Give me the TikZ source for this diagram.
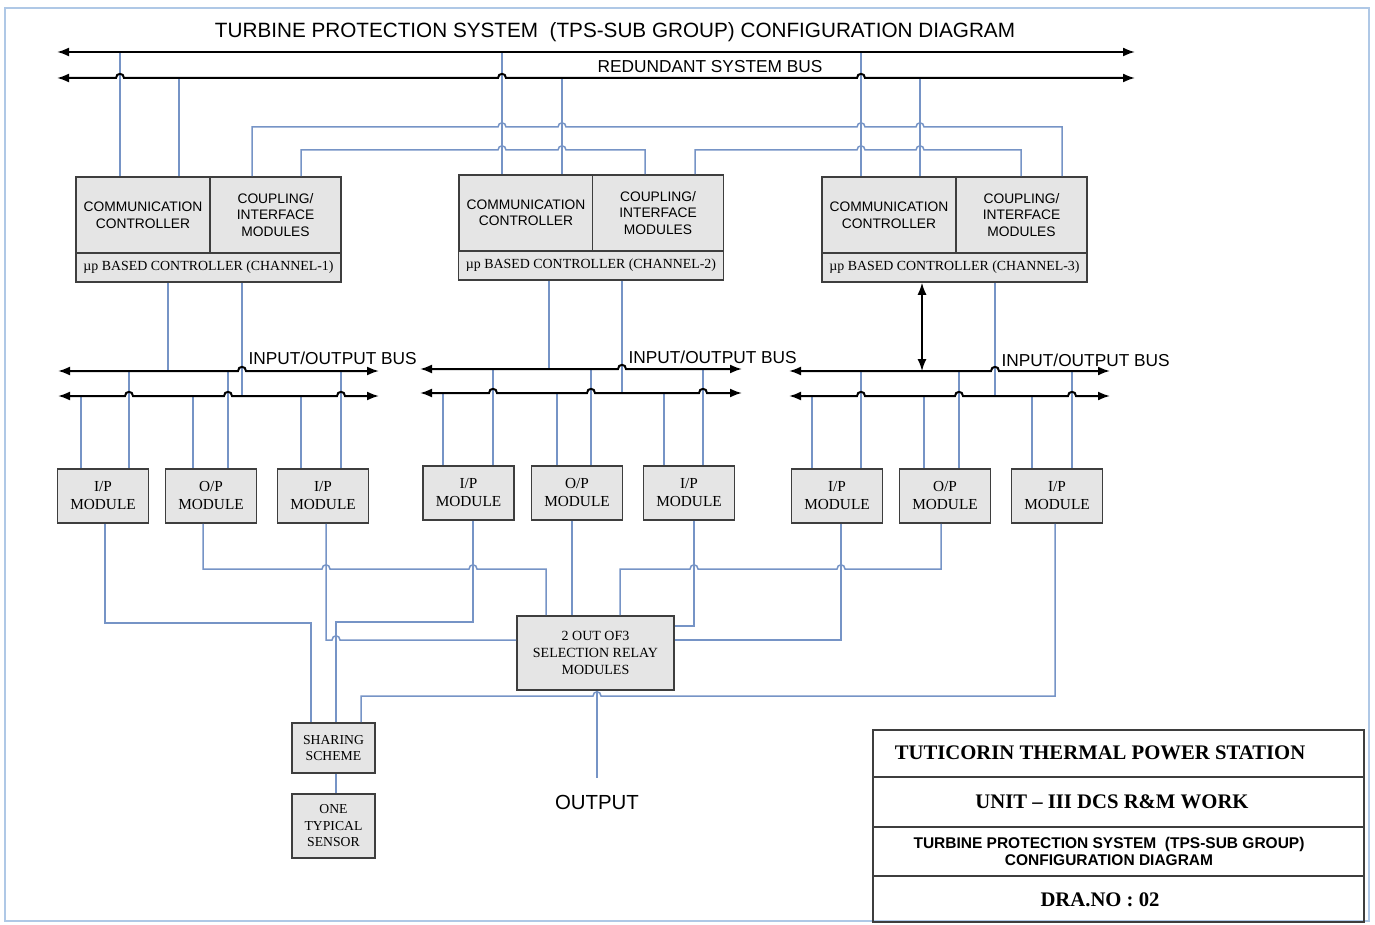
\documentclass[tikz,border=0pt]{standalone}
\usepackage{fontspec}
\setmainfont{Liberation Serif}
\setsansfont{Liberation Sans}
\usetikzlibrary{arrows.meta}

\definecolor{wireblue}{RGB}{118,148,198}
\definecolor{boxfill}{RGB}{229,229,229}
\definecolor{boxline}{RGB}{62,62,62}
\definecolor{pageline}{RGB}{175,200,230}

\def\titlefont{\sffamily\fontsize{20.7}{24}\selectfont}
\def\busfont{\sffamily\fontsize{17.3}{20}\selectfont}
\def\cmfont{\sffamily\fontsize{13.8}{16.5}\selectfont}
\def\stripfont{\fontsize{13.9}{16}\selectfont}
\def\modfont{\fontsize{15.3}{18}\selectfont}
\def\relayfont{\fontsize{14}{17}\selectfont}
\def\smallfont{\fontsize{13.7}{16.5}\selectfont}
\def\outfont{\sffamily\fontsize{20.4}{24}\selectfont}
\def\tbfont{\bfseries\fontsize{20.7}{24}\selectfont}
\def\tbsans{\sffamily\bfseries\fontsize{15.5}{17}\selectfont}

\def\hop#1#2{-- ({#1-4},#2) .. controls ({#1-4},{#2-5.5}) and ({#1+4},{#2-5.5}) .. ({#1+4},#2)}
\def\hopl#1#2{-- ({#1+4},#2) .. controls ({#1+4},{#2-5.5}) and ({#1-4},{#2-5.5}) .. ({#1-4},#2)}

\begin{document}
\begin{tikzpicture}[x=1pt,y=-1pt,
    box/.style={draw=boxline,fill=boxfill,line width=1.6pt,inner sep=0pt,align=center},
    commbox/.style={box,font=\cmfont,minimum width=134,minimum height=76},
    cplbox/.style={box,font=\cmfont,minimum width=131,minimum height=76},
    stripbox/.style={box,font=\stripfont,minimum width=265,minimum height=29},
    modbox/.style={box,font=\modfont,minimum width=91,minimum height=54},
    wire/.style={draw=wireblue,line width=1.5pt},
    bus/.style={draw=black,line width=2pt,>={Latex[length=12pt,width=9pt]},<->},
    tline/.style={draw=boxline,line width=1.5pt}]

    \useasboundingbox (0,0) rectangle (1375,925);
    \draw[pageline,line width=1.5pt] (5,8) rectangle (1369,921);

    \node[font=\titlefont] (title) at (615,32) {TURBINE PROTECTION SYSTEM\ \ (TPS-SUB GROUP) CONFIGURATION DIAGRAM};
    \node[font=\busfont] (sbuslabel) at (710,67) {REDUNDANT SYSTEM BUS};

    \node[commbox] (comm1) at (143,215) {COMMUNICATION\\CONTROLLER};
    \node[cplbox] (cpl1) at (275.5,215) {COUPLING/\\INTERFACE\\MODULES};
    \node[stripbox] (up1) at (208.5,267.5) {µp BASED CONTROLLER (CHANNEL-1)};

    \node[commbox] (comm2) at (526,213) {COMMUNICATION\\CONTROLLER};
    \node[cplbox] (cpl2) at (658,213) {COUPLING/\\INTERFACE\\MODULES};
    \node[stripbox] (up2) at (591,265.5) {µp BASED CONTROLLER (CHANNEL-2)};

    \node[commbox] (comm3) at (889,215) {COMMUNICATION\\CONTROLLER};
    \node[cplbox] (cpl3) at (1021.5,215) {COUPLING/\\INTERFACE\\MODULES};
    \node[stripbox] (up3) at (954.5,267.5) {µp BASED CONTROLLER (CHANNEL-3)};

    \node[font=\busfont,anchor=west] (iolabel1) at (245,358) {INPUT/OUTPUT BUS};
    \node[font=\busfont,anchor=west] (iolabel2) at (625,357) {INPUT/OUTPUT BUS};
    \node[font=\busfont,anchor=west] (iolabel3) at (998,360) {INPUT/OUTPUT BUS};

    \node[modbox] (ip11) at (103,496) {I/P\\MODULE};
    \node[modbox] (op1) at (211,496) {O/P\\MODULE};
    \node[modbox] (ip12) at (323,496) {I/P\\MODULE};
    \node[modbox] (ip21) at (468.5,493) {I/P\\MODULE};
    \node[modbox] (op2) at (577,493) {O/P\\MODULE};
    \node[modbox] (ip22) at (689,493) {I/P\\MODULE};
    \node[modbox] (ip31) at (837,496) {I/P\\MODULE};
    \node[modbox] (op3) at (945,496) {O/P\\MODULE};
    \node[modbox] (ip32) at (1057,496) {I/P\\MODULE};

    \node[box,font=\relayfont,minimum width=157,minimum height=74] (relay) at (595.5,653) {2 OUT OF3\\SELECTION RELAY\\MODULES};
    \node[box,font=\smallfont,minimum width=83,minimum height=50] (share) at (333.5,748) {SHARING\\SCHEME};
    \node[box,font=\smallfont,minimum width=83,minimum height=64] (sensor) at (333.5,826) {ONE\\TYPICAL\\SENSOR};
    \node[font=\outfont] (outp) at (597,802) {OUTPUT};
    \coordinate (outend) at (597,778);

    \foreach \x/\y/\c in {120/52/comm1,179/78/comm1,502/52/comm2,562/78/comm2,861/52/comm3,920/78/comm3}
      \draw[wire] (\x,\y) -- (\x,0 |- \c.north);

    \draw[wire] (252,0 |- cpl1.north) -- (252,127) \hop{502}{127} \hop{562}{127} \hop{861}{127} \hop{920}{127} -- (1062,127) -- (1062,0 |- cpl3.north);
    \draw[wire] (301,0 |- cpl1.north) -- (301,150) \hop{502}{150} \hop{562}{150} -- (645,150) -- (645,0 |- cpl2.north);
    \draw[wire] (695,0 |- cpl2.north) -- (695,150) \hop{861}{150} \hop{920}{150} -- (1021,150) -- (1021,0 |- cpl3.north);

    \draw[bus] (57,52) -- (1135,52);
    \draw[bus] (57,78) \hop{120}{78} \hop{502}{78} \hop{861}{78} -- (1135,78);

    \foreach \x/\y/\c in {168/371/up1,242/396/up1,549/369/up2,622/393/up2,995/396/up3}
      \draw[wire] (\x,0 |- \c.south) -- (\x,\y);

    \foreach \x/\y/\m in {81/396/ip11,129/371/ip11,193/396/op1,228/371/op1,301/396/ip12,341/371/ip12,
                          443/393/ip21,493/369/ip21,557/393/op2,591/369/op2,664/393/ip22,703/369/ip22,
                          812/396/ip31,861/371/ip31,924/396/op3,959/371/op3,1032/396/ip32,1072/371/ip32}
      \draw[wire] (\x,\y) -- (\x,0 |- \m.north);

    \draw[bus] (58,371) \hop{242}{371} -- (379,371);
    \draw[bus] (58,396) \hop{129}{396} \hop{228}{396} \hop{341}{396} -- (379,396);
    \draw[bus] (420,369) \hop{622}{369} -- (742,369);
    \draw[bus] (420,393) \hop{493}{393} \hop{591}{393} \hop{703}{393} -- (742,393);
    \draw[bus] (789,371) \hop{995}{371} -- (1110,371);
    \draw[bus] (789,396) \hop{861}{396} \hop{959}{396} \hop{1072}{396} -- (1110,396);
    \draw[bus,line width=1.5pt] (922,0 |- up3.south) -- (922,371);

    \draw[wire] (105,0 |- ip11.south) |- (311,623) -- (311,0 |- share.north);
    \draw[wire] (473,0 |- ip21.south) |- (336,622) -- (336,0 |- share.north);
    \draw[wire] (1055,0 |- ip32.south) -- (1055,696) \hopl{597}{696} -- (361,696) -- (361,0 |- share.north);
    \draw[wire] (203,0 |- op1.south) -- (203,569) \hop{326}{569} \hop{473}{569} -- (546,569) -- (546,0 |- relay.north);
    \draw[wire] (572,0 |- op2.south) -- (572,0 |- relay.north);
    \draw[wire] (941,0 |- op3.south) -- (941,569) \hopl{841}{569} \hopl{694}{569} -- (620,569) -- (620,0 |- relay.north);
    \draw[wire] (326,0 |- ip12.south) -- (326,640) \hop{336}{640} -- (0,640 -| relay.west);
    \draw[wire] (694,0 |- ip22.south) |- (relay.east |- 0,626);
    \draw[wire] (841,0 |- ip31.south) |- (relay.east |- 0,640);
    \draw[wire] (336,0 |- share.south) -- (336,0 |- sensor.north);
    \draw[wire] (597,0 |- relay.south) -- (outend);

    \draw[tline] (873,730) rectangle (1364,922);
    \foreach \y in {777,827,876}
      \draw[tline] (873,\y) -- (1364,\y);
    \node[font=\tbfont] (station) at (1100,753) {TUTICORIN THERMAL POWER STATION};
    \node[font=\tbfont] (unit) at (1112,802) {UNIT -- III DCS R\&M WORK};
    \node[font=\tbsans,align=center] (tpsname) at (1109,851) {TURBINE PROTECTION SYSTEM\ \ (TPS-SUB GROUP)\\CONFIGURATION DIAGRAM};
    \node[font=\tbfont] (drano) at (1100,900) {DRA.NO : 02};

\end{tikzpicture}
\end{document}
